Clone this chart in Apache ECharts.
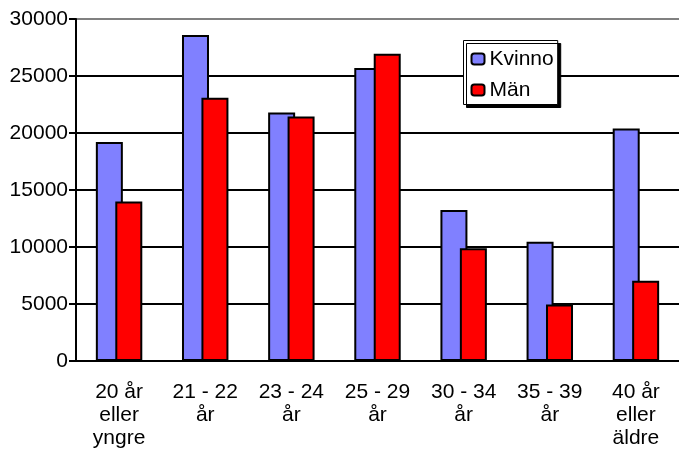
<!DOCTYPE html>
<html>
<head>
<meta charset="utf-8">
<script src="https://cdn.jsdelivr.net/npm/echarts@6/dist/echarts.min.js"></script>
<style>
html,body{margin:0;padding:0;background:#fff;}
#c{width:679px;height:454px;}
</style>
</head>
<body>
<div id="c"></div>
<script>
var categories = ['20 år\neller\nyngre', '21 - 22\når', '23 - 24\når', '25 - 29\når', '30 - 34\når', '35 - 39\når', '40 år\neller\näldre'];
var kvinnor = [19200, 28600, 21800, 25700, 13250, 10450, 20400];
var man = [14000, 23100, 21450, 26950, 9900, 4950, 7050];
var yTicks = {min: 0, max: 30000, interval: 5000};

var FONT = "'Liberation Sans', Arial, sans-serif";
var chart = echarts.init(document.getElementById('c'), null, {renderer: 'canvas'});
chart.setOption({
  animation: false,
  backgroundColor: '#ffffff',
  grid: {left: 76, top: 19, bottom: 93, width: 607, containLabel: false},
  legend: {
    orient: 'vertical',
    left: 463.5, top: 40.5,
    padding: [8, 4, 4, 7],
    itemWidth: 13, itemHeight: 11, itemGap: 10,
    backgroundColor: '#fff',
    borderColor: '#000', borderWidth: 1,
    shadowColor: '#000', shadowOffsetX: 3, shadowOffsetY: 3, shadowBlur: 0,
    textStyle: {fontFamily: FONT, fontSize: 21, color: '#000', width: 68, overflow: 'truncate', ellipsis: ''},
    data: ['Kvinnor', 'Män']
  },
  xAxis: [{
    type: 'category',
    data: categories,
    axisLine: {lineStyle: {color: '#000', width: 2}},
    axisTick: {length: 6, lineStyle: {color: '#000', width: 2}},
    axisLabel: {fontFamily: FONT, fontSize: 21, color: '#000', lineHeight: 23, margin: 20, interval: 0}
  }, {
    type: 'category',
    data: categories,
    position: 'bottom',
    axisLine: {show: false},
    axisTick: {inside: true, length: 7, lineStyle: {color: '#000', width: 2}},
    axisLabel: {show: false}
  }],
  yAxis: {
    type: 'value',
    min: yTicks.min, max: yTicks.max, interval: yTicks.interval,
    axisLine: {show: true, lineStyle: {color: '#000', width: 2}},
    axisTick: {show: true, length: 7, lineStyle: {color: '#000', width: 2}},
    axisLabel: {fontFamily: FONT, fontSize: 21, color: '#000', margin: 8, formatter: function (v) { return String(v); }},
    splitLine: {lineStyle: {color: ['#000', '#000', '#000', '#000', '#000', '#000', '#808080'], width: 2}}
  },
  series: [{
    name: 'Kvinnor', type: 'bar', data: kvinnor,
    barWidth: 27, barGap: '-28%',
    itemStyle: {color: '#8080ff', borderColor: '#000', borderWidth: 2}
  }, {
    name: 'Män', type: 'bar', data: man,
    barWidth: 27, barGap: '-28%',
    itemStyle: {color: '#ff0000', borderColor: '#000', borderWidth: 2}
  }]
});
</script>
</body>
</html>
